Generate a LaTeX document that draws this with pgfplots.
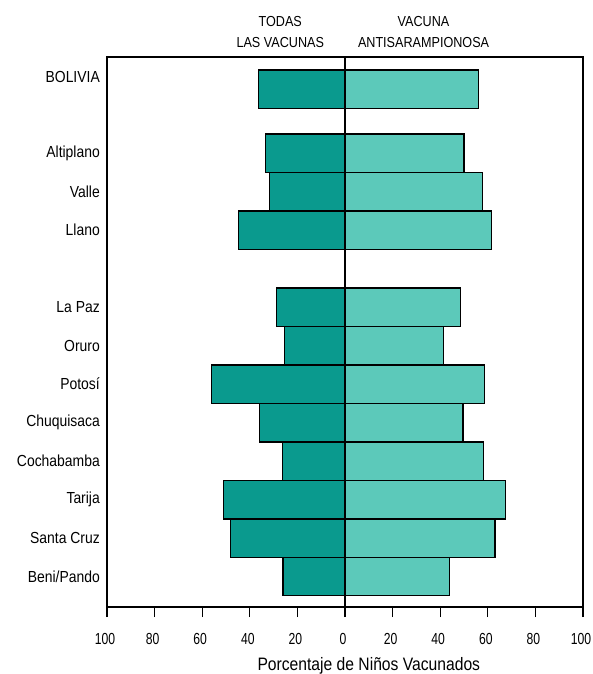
\documentclass[border=0pt]{standalone}
\usepackage{pgfplots}
\pgfplotsset{compat=1.18}
\usepackage{fontspec}
\setmainfont{Liberation Sans}[FakeStretch=0.87]
\newfontfamily\tickfont{Liberation Sans}[FakeStretch=0.76]
\definecolor{darkteal}{HTML}{0A9A8E}
\definecolor{lightteal}{HTML}{5CC9BA}
\begin{document}
\begin{tikzpicture}
\useasboundingbox (-107pt,-67pt) rectangle (485pt,607pt);
\begin{axis}[
  at={(0pt,0pt)}, anchor=south west,
  scale only axis, width=476pt, height=550pt,
  xmin=-100, xmax=100, ymin=-14.29, ymax=0,
  xbar, bar width=1, bar shift=0pt,
  axis line style={line width=1.3pt},
  xtick={-100,-80,...,100},
  xticklabels={100,80,60,40,20,0,20,40,60,80,100},
  xtick pos=bottom, xtick align=outside,
  major tick length=10pt,
  xtick style={line width=1.3pt, black},
  ytick={-0.52,-2.5,-3.5,-4.5,-6.5,-7.5,-8.5,-9.5,-10.5,-11.5,-12.5,-13.5},
  yticklabels={BOLIVIA,Altiplano,Valle,Llano,La Paz,Oruro,Potosí,Chuquisaca,Cochabamba,Tarija,Santa Cruz,Beni/Pando},
  ytick style={draw=none},
  yticklabel style={font=\fontsize{16}{19}\selectfont, anchor=east, inner sep=0pt, xshift=3pt},
  xticklabel style={font=\tickfont\fontsize{16}{19}\selectfont, anchor=base, inner sep=0pt, yshift=-27pt, xshift=-2pt},
  clip=false,
]
\addplot[fill=darkteal, draw=black, line width=1.3pt] coordinates {
  (-36.4,-0.84) (-33.5,-2.5) (-31.7,-3.5) (-44.8,-4.5)
  (-28.8,-6.5) (-25.5,-7.5) (-56,-8.5) (-36,-9.5)
  (-26.4,-10.5) (-51,-11.5) (-48,-12.5) (-26,-13.5)};
\addplot[fill=lightteal, draw=black, line width=1.3pt] coordinates {
  (56,-0.84) (50,-2.5) (57.7,-3.5) (61.5,-4.5)
  (48.5,-6.5) (41.5,-7.5) (58.5,-8.5) (49.6,-9.5)
  (58.3,-10.5) (67.4,-11.5) (63,-12.5) (44,-13.5)};
\draw[line width=1.3pt] (axis cs:0,-14.29) -- (axis cs:0,0);
\node[anchor=base, font=\fontsize{14.5}{17}\selectfont] at ([yshift=30pt]axis cs:-27.2,0) {TODAS};
\node[anchor=base, font=\fontsize{14.5}{17}\selectfont] at ([yshift=9pt]axis cs:-27.2,0) {LAS VACUNAS};
\node[anchor=base, font=\fontsize{14.5}{17}\selectfont] at ([yshift=30pt]axis cs:33,0) {VACUNA};
\node[anchor=base, font=\fontsize{14.5}{17}\selectfont] at ([yshift=9pt]axis cs:33,0) {ANTISARAMPIONOSA};
\node[anchor=base, font=\fontsize{18}{21}\selectfont] at ([yshift=-63pt]axis cs:10,-14.29) {Porcentaje de Niños Vacunados};
\end{axis}
\end{tikzpicture}
\end{document}
